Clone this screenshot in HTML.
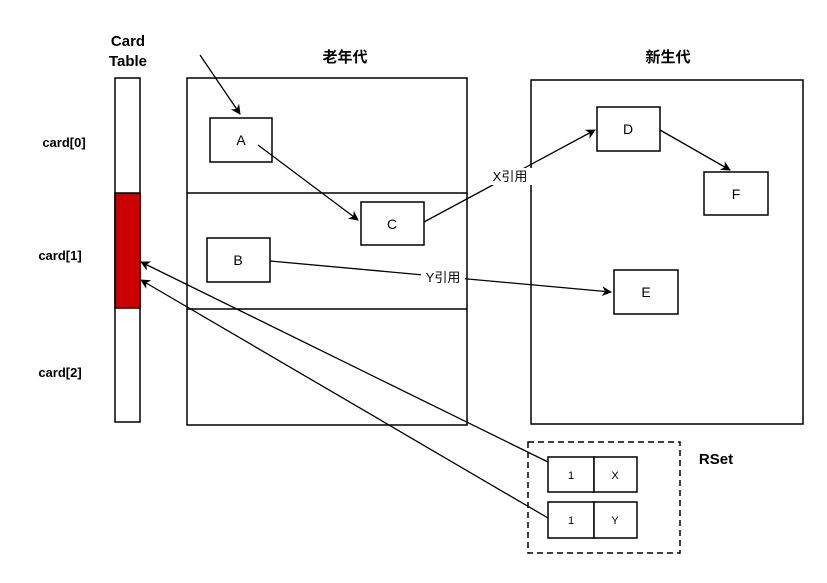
<!DOCTYPE html>
<html><head><meta charset="utf-8"><style>
body{margin:0;background:#fff;}
svg text{font-family:"Liberation Sans","Noto Sans CJK SC",sans-serif;}
</style></head><body>
<svg width="827" height="578" viewBox="0 0 827 578" xmlns="http://www.w3.org/2000/svg">
<defs><marker id="ar" markerWidth="10" markerHeight="10" refX="9" refY="5" orient="auto" markerUnits="userSpaceOnUse"><path d="M0,0 L10,5 L0,10 L3,5 z" fill="#000"/></marker></defs>
<rect width="827" height="578" fill="#fff"/>
<g font-weight="bold" font-size="15" text-anchor="middle" fill="#000">
<text x="128" y="46">Card</text><text x="128" y="66">Table</text>
<text x="345" y="62">老年代</text><text x="668" y="62">新生代</text>
<text x="716" y="464">RSet</text>
</g>
<g font-weight="bold" font-size="13" text-anchor="middle">
<text x="64" y="147">card[0]</text><text x="60" y="260">card[1]</text><text x="60" y="377">card[2]</text>
</g>
<g stroke="#000" stroke-width="1.5" fill="#fff">
<rect x="115" y="78" width="25" height="344"/>
<rect x="115" y="193" width="25" height="115" fill="#cc0000"/>
<rect x="187" y="78" width="280" height="347"/>
<line x1="187" y1="193" x2="467" y2="193"/><line x1="187" y1="309" x2="467" y2="309"/>
<rect x="531" y="80" width="272" height="344"/>
<rect x="210" y="118" width="62" height="44"/>
<rect x="361" y="202" width="63" height="43"/>
<rect x="207" y="238" width="63" height="44"/>
<rect x="597" y="107" width="63" height="44"/>
<rect x="704" y="172" width="64" height="43"/>
<rect x="614" y="270" width="64" height="44"/>
<rect x="528" y="442" width="152" height="111" stroke-dasharray="6,4"/>
<rect x="548" y="457" width="46" height="35"/><rect x="594" y="457" width="43" height="35"/>
<rect x="548" y="502" width="46" height="36"/><rect x="594" y="502" width="43" height="36"/>
</g>
<g font-size="14" text-anchor="middle">
<text x="241" y="145">A</text><text x="392" y="229">C</text><text x="238" y="265">B</text>
<text x="628" y="134">D</text><text x="736" y="199">F</text><text x="646" y="297">E</text>
</g>
<g font-size="11" text-anchor="middle">
<text x="571" y="479">1</text><text x="615" y="479">X</text>
<text x="571" y="524">1</text><text x="615" y="524">Y</text>
</g>
<g stroke="#000" stroke-width="1.3" fill="none" marker-end="url(#ar)">
<path d="M200,55 L240,114"/>
<path d="M258,145 L358,220"/>
<path d="M424,222 L595,130"/>
<path d="M660,130 L730,170"/>
<path d="M270,261 L611,292"/>
<path d="M548,462 L141,262"/>
<path d="M548,518 L141,280"/>
</g>
<rect x="488" y="168" width="44" height="17" fill="#fff"/>
<text x="510" y="181" font-size="13" text-anchor="middle">X引用</text>
<rect x="421" y="269" width="44" height="17" fill="#fff"/>
<text x="443" y="282" font-size="13" text-anchor="middle">Y引用</text>
</svg>
</body></html>
